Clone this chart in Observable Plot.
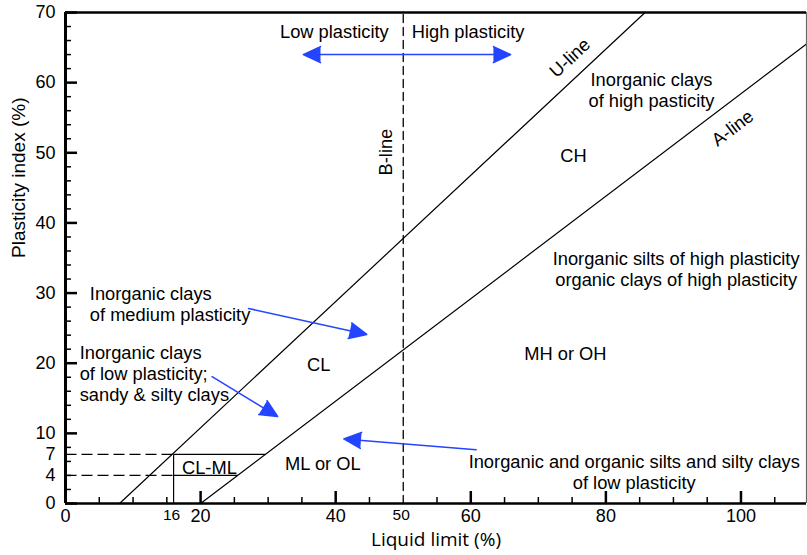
<!DOCTYPE html>
<html>
<head>
<meta charset="utf-8">
<script src="https://cdn.jsdelivr.net/npm/d3@7"></script>
<script src="https://cdn.jsdelivr.net/npm/@observablehq/plot@0.6"></script>
<style>
  html, body { margin: 0; padding: 0; background: #fff; }
  #chart svg { display: block; }
  g[aria-label="arrow"] path { fill: #2444ff; }
</style>
</head>
<body>
<div id="chart"></div>
<script>
// ---- axis ticks ----
const xMajorTicks = [0, 20, 40, 60, 80, 100];
const xMinorTicks = [5, 10, 15, 25, 30, 35, 45, 55, 65, 70, 75, 85, 90, 95, 105];
const xSpecialLabels = [16, 50];
const yMajorTicks = [0, 10, 20, 30, 40, 50, 60, 70];
const yMinorTicks = [2, 4, 6, 8, 12, 14, 16, 18, 22, 24, 26, 28, 32, 34, 36, 38, 42, 44, 46, 48, 52, 54, 56, 58, 62, 64, 66, 68];
const ySpecialLabels = [4, 7];

// ---- chart lines (liquid limit, plasticity index) ----
const uLineLL = [8, 85.8];
const uLinePI = [0, 70];
const aLineLL = [20, 109.7];
const aLinePI = [0, 65.5];
const bLineLL = [50, 50];
const bLinePI = [0, 70];

// CL-ML zone
const dashedGuides = [
  {ll1: 0, ll2: 16, pi1: 7, pi2: 7},
  {ll1: 0, ll2: 16, pi1: 4, pi2: 4}
];
const clmlEdges = [
  {ll1: 16, ll2: 29.6, pi1: 7, pi2: 7},
  {ll1: 16, ll2: 25.5, pi1: 4, pi2: 4},
  {ll1: 16, ll2: 16, pi1: 0, pi2: 7}
];

// ---- blue arrows ----
const arrows = [
  {ll1: 50, pi1: 64.0, ll2: 35.2, pi2: 64.0},
  {ll1: 50, pi1: 64.0, ll2: 65.9, pi2: 64.0},
  {ll1: 27.1, pi1: 27.8, ll2: 44.6, pi2: 24.1},
  {ll1: 21.7, pi1: 18.1, ll2: 31.4, pi2: 12.4},
  {ll1: 60.8, pi1: 7.66, ll2: 41.2, pi2: 9.2}
];

// ---- annotations ----
const centeredNotes = [
  {text: "Low plasticity", ll: 39.8, pi: 67.3, rotate: 0},
  {text: "High plasticity", ll: 59.6, pi: 67.3, rotate: 0},
  {text: "U-line", ll: 74.6, pi: 63.6, rotate: -43},
  {text: "A-line", ll: 98.7, pi: 53.6, rotate: -37},
  {text: "B-line", ll: 47.3, pi: 50.1, rotate: -90},
  {text: "Inorganic clays\nof high pasticity", ll: 86.75, pi: 59.0, rotate: 0},
  {text: "CH", ll: 75.2, pi: 49.6, rotate: 0},
  {text: "Inorganic silts of high plasticity\norganic clays of high plasticity", ll: 90.4, pi: 33.5, rotate: 0},
  {text: "MH or OH", ll: 74.0, pi: 21.4, rotate: 0},
  {text: "CL", ll: 37.5, pi: 19.9, rotate: 0},
  {text: "ML or OL", ll: 38.1, pi: 5.7, rotate: 0},
  {text: "CL-ML", ll: 21.3, pi: 5.1, rotate: 0},
  {text: "Inorganic and organic silts and silty clays\nof low plasticity", ll: 84.2, pi: 4.5, rotate: 0}
];
const leftNotes = [
  {text: "Inorganic clays\nof medium plasticity", ll: 3.6, pi: 28.5},
  {text: "Inorganic clays\nof low plasticity;\nsandy & silty clays", ll: 2.1, pi: 18.6}
];

const xTitle = "Liquid limit (%)";
const yTitle = "Plasticity index (%)";

const W = 807, H = 555;
const mL = 65, mR = 1, mT = 12, mB = 52;
const frameW = W - mL - mR, frameH = H - mT - mB;
const blue = "#2444ff";

const toPts = (lls, pis) => lls.map((ll, i) => ({ll, pi: pis[i]}));

const chart = Plot.plot({
  width: W,
  height: H,
  marginLeft: mL,
  marginRight: mR,
  marginTop: mT,
  marginBottom: mB,
  style: {fontFamily: "'Liberation Sans', Arial, Helvetica, sans-serif", fontSize: "18px", background: "#fff", color: "#000"},
  x: {domain: [0, 109.7], axis: null},
  y: {domain: [0, 70], axis: null},
  marks: [
    // inward ticks
    Plot.tickX(xMajorTicks, {x: d => d, insetTop: frameH - 12, strokeWidth: 2.5, stroke: "#000"}),
    Plot.tickX(xMinorTicks, {x: d => d, insetTop: frameH - 6, strokeWidth: 1.5, stroke: "#000"}),
    Plot.tickY(yMajorTicks, {y: d => d, insetRight: frameW - 12, strokeWidth: 2.5, stroke: "#000"}),
    Plot.tickY(yMinorTicks, {y: d => d, insetRight: frameW - 6, strokeWidth: 1.5, stroke: "#000"}),

    // chart lines
    Plot.line(toPts(uLineLL, uLinePI), {x: "ll", y: "pi", stroke: "#000", strokeWidth: 1.2}),
    Plot.line(toPts(aLineLL, aLinePI), {x: "ll", y: "pi", stroke: "#000", strokeWidth: 1.2}),
    Plot.line(toPts(bLineLL, bLinePI), {x: "ll", y: "pi", stroke: "#000", strokeWidth: 1.3, strokeDasharray: "8,5"}),
    Plot.link(dashedGuides, {x1: "ll1", x2: "ll2", y1: "pi1", y2: "pi2", stroke: "#000", strokeWidth: 1.2, strokeDasharray: "11,5"}),
    Plot.link(clmlEdges, {x1: "ll1", x2: "ll2", y1: "pi1", y2: "pi2", stroke: "#000", strokeWidth: 1.2}),

    // blue arrows
    Plot.arrow(arrows, {x1: "ll1", y1: "pi1", x2: "ll2", y2: "pi2", stroke: blue, strokeWidth: 1.5, headLength: 19, headAngle: 50}),

    // annotations
    Plot.text(centeredNotes, {x: "ll", y: "pi", text: "text", rotate: "rotate", textAnchor: "middle", fontSize: 18.3, lineHeight: 1.15, fill: "#000"}),
    Plot.text(leftNotes, {x: "ll", y: "pi", text: "text", textAnchor: "start", fontSize: 18.3, lineHeight: 1.15, fill: "#000"}),

    // frame
    Plot.ruleX([109.7], {stroke: "#666", strokeWidth: 1.2}),
    Plot.ruleY([70], {stroke: "#000", strokeWidth: 2.5}),
    Plot.ruleY([0], {stroke: "#000", strokeWidth: 2.5}),
    Plot.ruleX([0], {stroke: "#000", strokeWidth: 3}),

    // tick labels
    Plot.text(xMajorTicks, {x: d => d, frameAnchor: "bottom", dy: 18, fontSize: 18, text: d => String(d)}),
    Plot.text(xSpecialLabels, {x: d => d, frameAnchor: "bottom", dy: 16, dx: -2, fontSize: 15.5, text: d => String(d)}),
    Plot.text(yMajorTicks, {y: d => d, frameAnchor: "left", dx: -10, textAnchor: "end", fontSize: 18, text: d => String(d)}),
    Plot.text(ySpecialLabels, {y: d => d, frameAnchor: "left", dx: -10, textAnchor: "end", fontSize: 18, text: d => String(d)}),

    // axis titles
    Plot.text([xTitle], {frameAnchor: "bottom", dy: 42, fontSize: 19, fontFamily: "'Open Sans', sans-serif", text: d => d}),
    Plot.text([yTitle], {frameAnchor: "left", dx: -47, rotate: -90, fontSize: 19, text: d => d})
  ]
});

document.getElementById("chart").appendChild(chart);
</script>
</body>
</html>
